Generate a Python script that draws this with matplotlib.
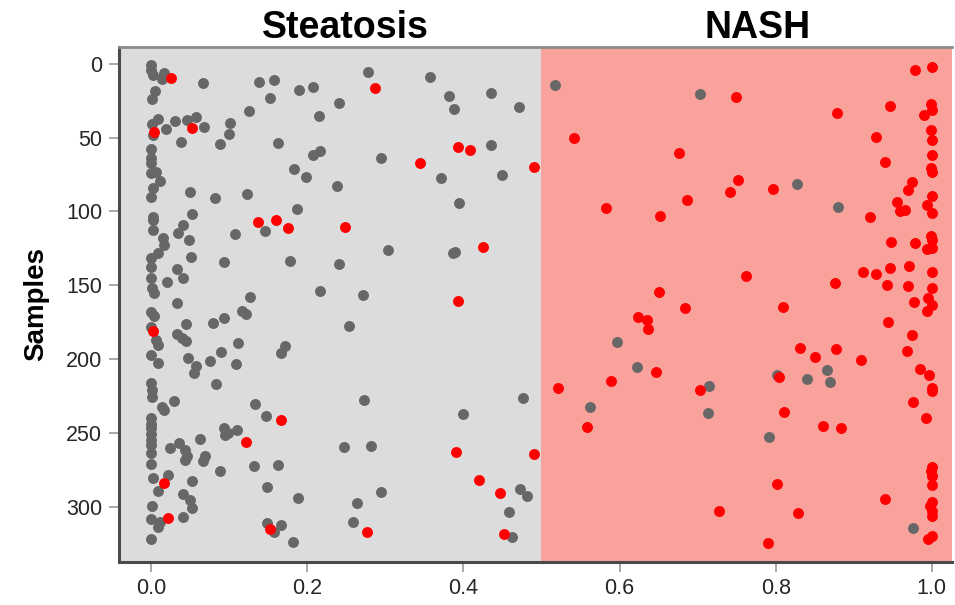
import matplotlib
matplotlib.use("Agg")
import matplotlib.pyplot as plt

plt.rcParams['font.family'] = ['Liberation Sans', 'DejaVu Sans']

# Samples classed as steatosis (grey) -- probability vs sample index
gray_x = [
    0.0, 0.0, 0.003, 0.016, 0.014, 0.067, 0.138, 0.158, 0.189, 0.208, 0.153, 0.005, 0.001,
    0.126, 0.215, 0.009, 0.001, 0.002, 0.019, 0.031, 0.046, 0.057, 0.068, 0.039, 0.088,
    0.101, 0.100, 0.162, 0.208, 0.217, 0.0, 0.0, 0.0, 0.007, 0.0, 0.011, 0.002, 0.0, 0.050,
    0.082, 0.123, 0.183, 0.198, 0.187, 0.053, 0.003,
    0.278, 0.357, 0.241, 0.382, 0.388, 0.435, 0.471, 0.294, 0.435, 0.371, 0.449, 0.238, 0.395,
    0.517, 0.703, 0.827, 0.880,
    0.003, 0.003, 0.041, 0.034, 0.015, 0.017, 0.049, 0.108, 0.146, 0.009, 0.0, 0.0, 0.051,
    0.093, 0.178, 0.033, 0.041, 0.020, 0.0, 0.001, 0.004, 0.217, 0.127, 0.033, 0.0, 0.004,
    0.116, 0.122, 0.093, 0.079, 0.045, 0.0, 0.007, 0.009, 0.033, 0.040, 0.045, 0.112, 0.090,
    0.172, 0.167, 0.0, 0.009, 0.048, 0.076, 0.058, 0.055, 0.109, 0.083,
    0.0, 0.001, 0.001, 0.014, 0.017, 0.030, 0.133, 0.147, 0.0, 0.0, 0.0, 0.0, 0.0, 0.0,
    0.093, 0.099, 0.110, 0.095, 0.063, 0.024, 0.036, 0.044, 0.046, 0.044, 0.069, 0.067, 0.0,
    0.0, 0.088, 0.132, 0.162, 0.002, 0.022, 0.009, 0.052, 0.041, 0.050, 0.053, 0.148, 0.188,
    0.001, 0.0, 0.012, 0.009, 0.041, 0.148, 0.158, 0.167, 0.182, 0.0,
    0.304, 0.241, 0.271, 0.254, 0.387, 0.389,
    0.273, 0.477, 0.399, 0.247, 0.282, 0.472, 0.481, 0.294, 0.264, 0.259, 0.459, 0.462,
    0.597, 0.623, 0.714, 0.562, 0.713,
    0.866, 0.840, 0.869, 0.802, 0.791, 0.976,
]
gray_y = [
    1, 4, 7.5, 6.3, 10, 13, 12, 11, 17.4, 15.4, 23, 18, 24,
    32, 35, 37, 41, 48, 44, 39, 38, 36, 42.5, 52.7, 54,
    40, 47.7, 53.3, 61.7, 59, 57.6, 64, 67.3, 73, 74, 79, 84, 90, 87,
    91, 88, 71.4, 76.6, 98, 102, 104,
    5.2, 8.6, 26.7, 21.5, 30.3, 19.4, 29, 63.5, 55, 77.5, 75, 82.5, 94.4,
    14.2, 20.6, 81.4, 96.7,
    105.8, 112.5, 109, 114.8, 117.7, 122.7, 119.3, 115.5, 113.2, 128.3, 131.7, 137.4, 130.6,
    134.5, 133.6, 139, 145.3, 148, 145.3, 152, 155.5, 153.7, 157.7, 162.3, 168.4, 170.8,
    167.5, 169.7, 172, 175.4, 176, 178, 187, 190.5, 183, 186, 188, 189.4, 195,
    191, 196, 197.3, 202.5, 199.5, 201.4, 204.5, 209.7, 203.6, 217,
    216, 221, 226, 232.3, 234.6, 228.5, 230.7, 238.6, 240, 244, 247, 251, 255, 258,
    247, 250.4, 248, 251.5, 254.4, 260.5, 257, 261.7, 266, 268.5, 266, 269, 264,
    271, 276, 272.5, 272, 281, 278.6, 289.5, 283, 291.7, 295.6, 300.8, 286.6, 294,
    299.5, 308.5, 310.3, 313.7, 307, 311.4, 317, 312.5, 323.9, 322.3,
    126.1, 135.6, 156.6, 177.4, 128.3, 127.3,
    227.8, 226.7, 237.5, 259.4, 258.8, 288, 292.7, 290, 297.9, 310.7, 304, 321,
    188.7, 205.6, 218.3, 232.7, 236.8,
    207.5, 213.6, 215.6, 210.8, 252.7, 314.8,
]

# Samples classed as NASH (red)
red_x = [
    0.026, 0.004, 0.052, 0.137, 0.160,
    0.287, 0.345, 0.393, 0.408, 0.490,
    0.749, 0.542, 0.676, 0.752, 0.742, 0.686, 0.583, 0.652,
    0.979, 1.0, 0.946, 0.879, 0.999, 1.0, 0.990, 0.928, 0.999, 1.0, 0.940, 1.0, 0.999, 1.0,
    0.796, 0.975, 0.970, 0.955, 1.0, 0.994, 0.959, 0.965, 1.0, 0.921,
    0.176, 0.002,
    0.166, 0.122, 0.017, 0.022, 0.152,
    0.249, 0.425, 0.393,
    0.391, 0.490, 0.420, 0.447, 0.277, 0.452,
    0.762, 0.650, 0.684, 0.624, 0.635, 0.636, 0.647, 0.589, 0.521, 0.703,
    0.558, 0.727,
    0.999, 1.0, 0.994, 1.0, 0.948, 0.978, 0.912, 0.929, 0.946, 0.971, 1.0, 0.876, 0.943,
    0.970, 1.0, 0.977, 0.995, 1.0, 0.994, 0.809, 0.944, 0.975, 0.968, 0.831, 0.877, 0.850,
    0.909, 0.985, 0.997, 0.804, 1.0,
    1.0, 0.976, 0.811, 0.992, 0.861, 0.884, 1.0, 0.999, 1.0, 1.0, 0.802, 0.940, 1.0, 0.998,
    1.0, 1.0, 0.828, 1.0, 0.995, 0.790,
]
red_y = [
    9.5, 46, 43.6, 107, 106,
    16.5, 67.3, 56, 58.5, 69.6,
    22.6, 50.4, 60.6, 78.6, 86.6, 92.4, 97.6, 103,
    4, 2.3, 28.3, 33.4, 27, 31, 34.6, 49.3, 45, 51.5, 66.2, 62, 70.7, 73,
    84.5, 79.8, 85.6, 93.3, 89.3, 95.6, 100, 99, 101, 104,
    111.4, 181,
    241.6, 256, 283.8, 308, 315.5,
    110.7, 123.8, 160.7,
    262.8, 264.6, 281.8, 290.6, 317.5, 318.6,
    143.5, 154.8, 165.6, 171.5, 173.8, 179.9, 208.8, 214.7, 219.9, 221,
    245.9, 303,
    116.4, 119.3, 125.4, 124.5, 120.5, 121.6, 140.8, 142.6, 138.5, 136.7, 141.2, 148.7, 149.8,
    150.5, 151.6, 161.6, 158.9, 163.4, 167.3, 164.5, 174.7, 183.7, 194.6, 192.8, 193.4, 198.8,
    200.7, 206.8, 210.8, 212.4, 219.9,
    221.7, 229.4, 235.7, 240.2, 245.2, 246.6, 273, 276, 279, 285.4, 284.7, 294.9, 297.2, 299.5,
    303, 306.2, 304.6, 320, 322, 325,
]

x_ticks = [0.0, 0.2, 0.4, 0.6, 0.8, 1.0]
y_ticks = [0, 50, 100, 150, 200, 250, 300]
threshold = 0.5


fig = plt.figure(figsize=(9.55, 6.05), dpi=100)
ax = fig.add_axes([0.1246, 0.0716, 0.8724, 0.8512])

ax.set_xlim(-0.041, 1.026)
ax.set_ylim(337.4, -11.7)

# background halves
ax.axvspan(-0.041, threshold, color='#dcdcdc', zorder=0, lw=0)
ax.axvspan(threshold, 1.026, color='#f9a19b', zorder=0, lw=0)

ax.scatter(gray_x, gray_y, s=62, color='#676767', lw=0, zorder=2)
ax.scatter(red_x, red_y, s=62, color='#ff0000', lw=0, zorder=3)

ax.set_xticks(x_ticks)
ax.set_xticklabels([f"{v:.1f}" for v in x_ticks])
ax.set_yticks(y_ticks)
ax.tick_params(axis='both', length=7, width=1.2, color='#9a9a9a', labelsize=15.5,
               labelcolor='#262626', pad=5)

for side in ['left', 'bottom']:
    ax.spines[side].set_color('#4a4a4a')
    ax.spines[side].set_linewidth(2.2)
ax.spines['top'].set_color('#8c8c8c')
ax.spines['top'].set_linewidth(2)
ax.spines['right'].set_visible(False)

ax.set_ylabel("Samples", fontsize=20, fontweight='bold', labelpad=12)

# group titles above the plot
fig.text(345 / 955, 1 - 38 / 605, "Steatosis", fontsize=27, fontweight='bold',
         ha='center', va='baseline')
fig.text(758 / 955, 1 - 38 / 605, "NASH", fontsize=27, fontweight='bold',
         ha='center', va='baseline')

fig.savefig("out.png", dpi=100)
